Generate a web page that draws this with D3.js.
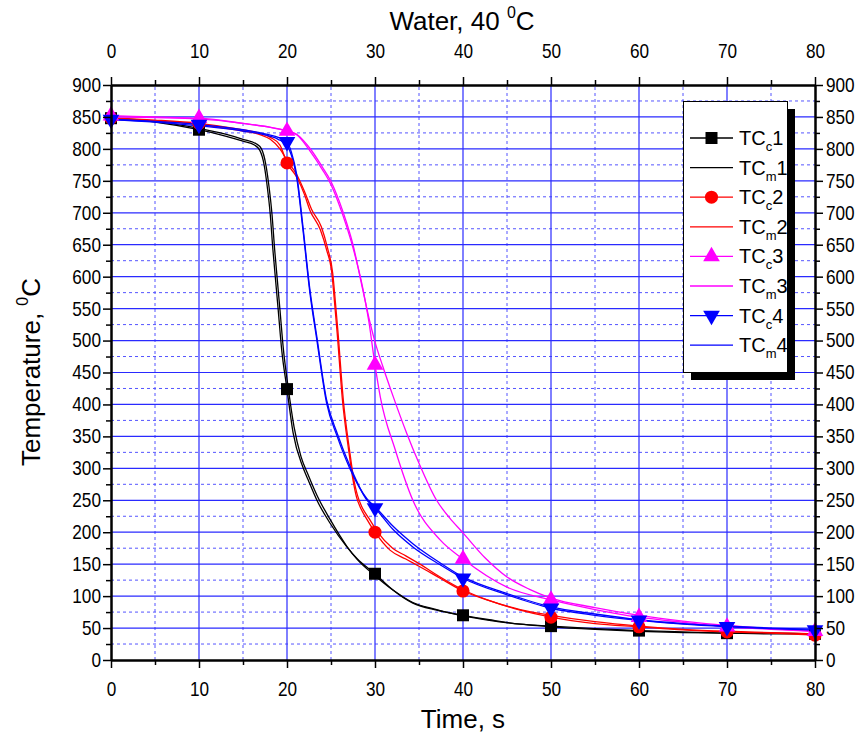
<!DOCTYPE html>
<html><head><meta charset="utf-8">
<script src="https://cdn.jsdelivr.net/npm/d3@7"></script>
<style>body{margin:0;background:#fff}svg{display:block}text{font-family:"Liberation Sans",Arial,sans-serif}</style>
</head><body><svg id="c" width="868" height="742"></svg>
<script>
// ---- data (time s, temperature °C) ----
const xTicks = [0,10,20,30,40,50,60,70,80];
const yTicks = [0,50,100,150,200,250,300,350,400,450,500,550,600,650,700,750,800,850,900];
const seriesNames = ["TCc1","TCm1","TCc2","TCm2","TCc3","TCm3","TCc4","TCm4"];
const TCc1 = [[0,848],[5,842],[10,830],[13,820],[15,812],[16.3,806],[16.9,798],[17.4,775],[17.7,747],[18.1,697],[18.4,642],[18.7,595],[19.0,548],[19.4,485],[20,424],[20.7,355],[21.8,302],[22.4,282],[23.4,250],[24.9,214],[26.8,177],[28,158],[30,135],[32,110],[34.3,89],[37,78],[40,70],[43,63],[46.5,56],[50,53],[55,49],[60,46],[65,44],[70,42],[75,42],[80,41]];
const TCm1 = [[0,848],[5,843],[10,832],[13,823],[15,815],[16.5,808],[17.1,800],[17.6,775],[17.9,747],[18.3,697],[18.6,642],[18.9,595],[19.2,548],[19.6,485],[20.1,430],[20.8,365],[21.6,318],[22.4,290],[23.4,258],[24.9,220],[26.8,178],[28,157],[30,132],[32,110],[34.3,90],[37,79],[40,69],[43,62],[46.5,56],[50,52],[55,48],[60,45],[65,43],[70,42],[75,41],[80,41]];
const TCc2 = [[0,848],[5,845],[10,840],[14,832],[17,824],[18.1,818],[19.2,806],[20,778],[21.1,756],[22,728],[22.6,704],[23.8,673],[24.5,642],[25.1,605],[25.4,560],[25.7,512],[26.3,407],[27,329],[27.5,282],[27.9,255],[28.3,240],[29,222],[30,200],[31.7,172],[33.5,158],[35.1,146],[37.4,128],[40,108],[43,93],[46.5,78],[50,67],[55,57],[60,52],[65,47],[70,44],[75,42],[80,39]];
const TCm2 = [[0,847],[5,844],[10,838],[14,830],[17,822],[18.1,815],[19.2,800],[20,782],[21.1,760],[22,733],[22.8,705],[23.9,678],[24.6,645],[25.2,605],[25.5,560],[25.8,512],[26.4,407],[27.1,329],[27.6,282],[28,258],[28.5,240],[29.3,222],[30.3,200],[32,175],[33.5,163],[35.1,150],[37.4,130],[40,110],[43,93],[46.5,79],[50,70],[55,60],[60,53],[65,48],[70,45],[75,43],[80,41]];
const TCc3 = [[0,852],[5,850],[10,848],[15,840],[18,834],[20,828],[21.1,822],[22.6,797],[24,768],[25,744],[26.4,694],[27.5,645],[28.6,583],[29.3,530],[30,462],[30.6,412],[32.3,329],[34.3,250],[37.4,188],[40,158],[45,114],[50,94],[55,79],[60,67],[65,59],[70,52],[75,48],[80,45]];
const TCm3 = [[0,850],[5,849],[10,847],[15,840],[18,834],[20,828],[21.1,823],[22.6,801],[24,772],[25,749],[26.4,700],[27.5,650],[28.6,580],[29.3,536],[30,498],[30.9,459],[32,415],[33.6,355],[35,308],[37,250],[38.5,222],[40,199],[42.5,160],[45,130],[47.5,111],[50,97],[55,82],[60,70],[65,61],[70,54],[75,49],[80,45]];
const TCc4 = [[0,846],[5,843],[10,838],[15,830],[18,822],[19,818],[20,811],[20.5,795],[21.1,760],[21.8,680],[22.6,580],[23.4,505],[24.5,407],[25.7,355],[27.2,302],[29.1,250],[30,238],[32,205],[34.3,177],[37.4,149],[40,128],[45,102],[50,81],[55,70],[60,62],[65,56],[70,52],[75,49],[80,47]];
const TCm4 = [[0,846],[5,842],[10,836],[15,828],[18,820],[19,815],[20,805],[20.5,790],[21.1,755],[21.8,675],[22.6,575],[23.4,500],[24.5,402],[25.7,350],[27.2,298],[29.1,252],[30,240],[32,210],[34.3,182],[37.4,152],[40,130],[45,104],[50,83],[55,72],[60,63],[65,57],[70,53],[75,50],[80,48]];

const series = [
  {name:"TCc1", sub:"c", num:"1", data:TCc1, color:"#000000", marker:"square"},
  {name:"TCm1", sub:"m", num:"1", data:TCm1, color:"#000000", marker:null},
  {name:"TCc2", sub:"c", num:"2", data:TCc2, color:"#ff0000", marker:"circle"},
  {name:"TCm2", sub:"m", num:"2", data:TCm2, color:"#ff0000", marker:null},
  {name:"TCc3", sub:"c", num:"3", data:TCc3, color:"#ff00ff", marker:"up"},
  {name:"TCm3", sub:"m", num:"3", data:TCm3, color:"#ff00ff", marker:null},
  {name:"TCc4", sub:"c", num:"4", data:TCc4, color:"#0000ff", marker:"down"},
  {name:"TCm4", sub:"m", num:"4", data:TCm4, color:"#0000ff", marker:null}
];

const svg = d3.select("#c");
const x = d3.scaleLinear().domain([0,80]).range([111,815]);
const y = d3.scaleLinear().domain([0,900]).range([660,85]);
const x0=x(0), x1=x(80), y0=y(0), y1=y(900);

// grid
const g = svg.append("g");
const minorX = d3.range(5,80,10), minorY = d3.range(25,900,50);
g.selectAll(".mx").data(minorX).enter().append("line")
  .attr("x1",d=>x(d)).attr("x2",d=>x(d)).attr("y1",y0).attr("y2",y1)
  .attr("stroke","#5555ff").attr("stroke-width",1).attr("stroke-dasharray","3,3");
g.selectAll(".my").data(minorY).enter().append("line")
  .attr("y1",d=>y(d)).attr("y2",d=>y(d)).attr("x1",x0).attr("x2",x1)
  .attr("stroke","#5555ff").attr("stroke-width",1).attr("stroke-dasharray","3,3");
g.selectAll(".Mx").data(xTicks.slice(1,-1)).enter().append("line")
  .attr("x1",d=>x(d)).attr("x2",d=>x(d)).attr("y1",y0).attr("y2",y1)
  .attr("stroke","#2a2aff").attr("stroke-width",1.2);
g.selectAll(".My").data(yTicks.slice(1,-1)).enter().append("line")
  .attr("y1",d=>y(d)).attr("y2",d=>y(d)).attr("x1",x0).attr("x2",x1)
  .attr("stroke","#2a2aff").attr("stroke-width",1.2);

// lines
const line = d3.line().x(d=>x(d[0])).y(d=>y(d[1])).curve(d3.curveMonotoneX);
svg.append("g").selectAll("path").data(series).enter().append("path")
  .attr("d",d=>line(d.data)).attr("fill","none").attr("stroke",d=>d.color)
  .attr("stroke-width",1.3);

// markers
function sym(type){
  if(type==="square") return d3.symbol(d3.symbolSquare,144)();
  if(type==="circle") return d3.symbol(d3.symbolCircle,135)();
  return d3.symbol(d3.symbolTriangle,120)();
}
const mg = svg.append("g");
series.filter(s=>s.marker).forEach(s=>{
  mg.selectAll(null).data(s.data.filter(d=>d[0]%10===0)).enter().append("path")
    .attr("d",sym(s.marker)).attr("fill",s.color)
    .attr("transform",d=>`translate(${x(d[0])},${y(d[1])})${s.marker==="down"?" rotate(180)":""}`);
});

// axes
const SX = 0.86;
function styleAxis(sel){
  sel.selectAll(".domain").attr("stroke","#000").attr("stroke-width",2);
  sel.selectAll(".tick line").attr("stroke","#000").attr("stroke-width",1.5);
  sel.selectAll("text").attr("font-size","20px").attr("fill","#000")
    .attr("x",function(){ return (+this.getAttribute("x")||0)/SX; })
    .attr("transform",`scale(${SX},1)`);
}
const ax = svg.append("g");
ax.append("g").attr("transform",`translate(0,${y0})`)
  .call(d3.axisBottom(x).tickValues(minorX).tickSize(5).tickSizeOuter(0).tickFormat("")).call(styleAxis);
ax.append("g").attr("transform",`translate(0,${y0})`)
  .call(d3.axisBottom(x).tickValues(xTicks).tickSize(8).tickSizeOuter(0).tickPadding(14)).call(styleAxis);
ax.append("g").attr("transform",`translate(0,${y1})`)
  .call(d3.axisTop(x).tickValues(minorX).tickSize(5).tickSizeOuter(0).tickFormat("")).call(styleAxis);
ax.append("g").attr("transform",`translate(0,${y1})`)
  .call(d3.axisTop(x).tickValues(xTicks).tickSize(8).tickSizeOuter(0).tickPadding(19)).call(styleAxis);
ax.append("g").attr("transform",`translate(${x0},0)`)
  .call(d3.axisLeft(y).tickValues(minorY).tickSize(5).tickSizeOuter(0).tickFormat("")).call(styleAxis);
ax.append("g").attr("transform",`translate(${x0},0)`)
  .call(d3.axisLeft(y).tickValues(yTicks).tickSize(8).tickSizeOuter(0).tickPadding(2)).call(styleAxis);
ax.append("g").attr("transform",`translate(${x1},0)`)
  .call(d3.axisRight(y).tickValues(minorY).tickSize(5).tickSizeOuter(0).tickFormat("")).call(styleAxis);
ax.append("g").attr("transform",`translate(${x1},0)`)
  .call(d3.axisRight(y).tickValues(yTicks).tickSize(8).tickSizeOuter(0).tickPadding(3)).call(styleAxis);

// titles
const t1 = svg.append("text").attr("x",462).attr("y",30).attr("text-anchor","middle").attr("font-size","26px");
t1.append("tspan").text("Water, 40 ");
t1.append("tspan").attr("font-size","16px").attr("dy",-12).text("0");
t1.append("tspan").attr("dy",12).text("C");
svg.append("text").attr("x",463).attr("y",728).attr("text-anchor","middle").attr("font-size","26px").text("Time, s");
const t3 = svg.append("text").attr("transform","translate(40,372) rotate(-90)").attr("text-anchor","middle").attr("font-size","26px");
t3.append("tspan").text("Temperature, ");
t3.append("tspan").attr("font-size","16px").attr("dy",-12).text("0");
t3.append("tspan").attr("dy",12).text("C");

// legend
const lg = svg.append("g");
lg.append("rect").attr("x",691).attr("y",109).attr("width",104).attr("height",271).attr("fill","#000");
lg.append("rect").attr("x",683.5).attr("y",101.5).attr("width",104).attr("height",271).attr("fill","#fff").attr("stroke","#000").attr("stroke-width",1);
series.forEach((s,i)=>{
  const yy = 138 + i*29.6;
  lg.append("line").attr("x1",690).attr("x2",733).attr("y1",yy).attr("y2",yy).attr("stroke",s.color).attr("stroke-width",1.3);
  if(s.marker) lg.append("path").attr("d",sym(s.marker)).attr("fill",s.color)
    .attr("transform",`translate(711.5,${yy})${s.marker==="down"?" rotate(180)":""}`);
  const tx = lg.append("text").attr("x",739).attr("y",yy+7).attr("font-size","20px").attr("fill","#000");
  tx.append("tspan").text("TC");
  tx.append("tspan").attr("font-size","13px").attr("dy",6).text(s.sub);
  tx.append("tspan").attr("dy",-6).text(s.num);
});
</script></body></html>
